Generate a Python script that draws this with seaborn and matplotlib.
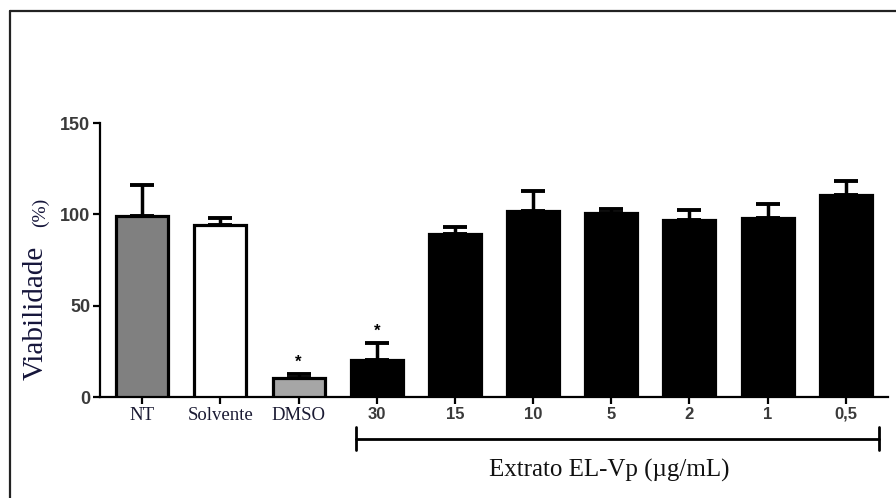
import matplotlib
matplotlib.use("Agg")
import matplotlib.pyplot as plt
import matplotlib.transforms as mtransforms
from matplotlib.lines import Line2D
import seaborn as sns
import numpy as np

categories = ["NT", "Solvente", "DMSO", "30", "15", "10", "5", "2", "1", "0,5"]
viability = [99.0, 94.0, 10.6, 20.0, 89.0, 102.0, 101.0, 96.7, 97.8, 110.7]
error_up = [17.0, 4.0, 2.0, 9.5, 4.0, 10.5, 2.0, 5.5, 7.8, 7.3]
bar_colors = ["#808080", "#ffffff", "#a6a6a6", "#000000", "#000000",
              "#000000", "#000000", "#000000", "#000000", "#000000"]
significant = ["DMSO", "30"]
y_ticks = [0, 50, 100, 150]

sns.set_theme(style="white")
plt.rcParams["font.family"] = ["Liberation Serif", "DejaVu Serif"]

W, H = 896, 498
fig = plt.figure(figsize=(W / 100, H / 100), dpi=100)
ax = fig.add_axes([100 / W, (H - 397) / H, (888 - 100) / W, (397 - 123) / H])

sns.barplot(x=categories, y=viability, hue=categories, palette=bar_colors,
            legend=False, width=0.665, edgecolor="black", linewidth=2.3,
            saturation=1, ax=ax, zorder=3)

xs = np.arange(len(categories))
ax.errorbar(xs, viability, yerr=[np.zeros(len(xs)), error_up], fmt="none",
            ecolor="black", elinewidth=2.5, capsize=8.5, capthick=2.8, zorder=2)

for cat in significant:
    i = categories.index(cat)
    ax.text(i, viability[i] + error_up[i] + 2.5, "*", ha="center", va="bottom",
            fontsize=12, fontweight="bold", color="black",
            family=["Liberation Sans", "DejaVu Sans"])

ax.set_xlim(-0.54, 9.54)
ax.set_ylim(0, 150)
ax.set_yticks(y_ticks)
ax.set_yticklabels([str(t) for t in y_ticks], family=["Liberation Sans", "DejaVu Sans"],
                   fontsize=13, fontweight="bold", color="#3a3a3a")
ax.set_xticks(xs)
ax.set_xticklabels(categories)
for i, lab in enumerate(ax.get_xticklabels()):
    if i < 3:
        lab.set_family(["Liberation Serif", "DejaVu Serif"])
        lab.set_fontsize(13.5)
        lab.set_color("#1a1a33")
    else:
        lab.set_family(["Liberation Sans", "DejaVu Sans"])
        lab.set_fontsize(12)
        lab.set_fontweight("bold")
        lab.set_color("#3a3a3a")

for side in ["top", "right"]:
    ax.spines[side].set_visible(False)
for side in ["left", "bottom"]:
    ax.spines[side].set_linewidth(1.6)
    ax.spines[side].set_color("black")
ax.tick_params(axis="both", direction="out", length=5, width=1.6, color="black",
               bottom=True, left=True, pad=2)
ax.set_xlabel("")
ax.set_ylabel("")
ax.grid(False)

# y label
fig.text(36 / W, (H - 313) / H, "Viabilidade", rotation=90, ha="center", va="center",
         fontsize=21, color="#15153a")
fig.text(40 / W, (H - 212) / H, "(%)", rotation=90, ha="center", va="center",
         fontsize=14, color="#15153a")

# bracket for extract concentrations
trans = mtransforms.blended_transform_factory(ax.transData, fig.transFigure)
x_left = categories.index("30") - 0.27
x_right = categories.index("0,5") + 0.43
yb = (H - 439) / H
ytop = (H - 427) / H
ybot = (H - 450) / H
for line in [Line2D([x_left, x_right], [yb, yb]),
             Line2D([x_left, x_left], [ytop, ybot]),
             Line2D([x_right, x_right], [ytop, ybot])]:
    line.set_transform(trans)
    line.set_color("black")
    line.set_linewidth(2.0)
    line.set_clip_on(False)
    fig.add_artist(line)
fig.text(609 / W, (H - 470) / H, "Extrato EL-Vp (\u00b5g/mL)", ha="center", va="center",
         fontsize=18, color="#111111")

# outer frame (left and top edges visible)
fig.add_artist(Line2D([10 / W, 10 / W], [0, (H - 11) / H], transform=fig.transFigure,
                      color="#222222", linewidth=1.6))
fig.add_artist(Line2D([10 / W, 1.0], [(H - 11) / H, (H - 11) / H], transform=fig.transFigure,
                      color="#222222", linewidth=1.6))

fig.savefig("out.png", dpi=100)
